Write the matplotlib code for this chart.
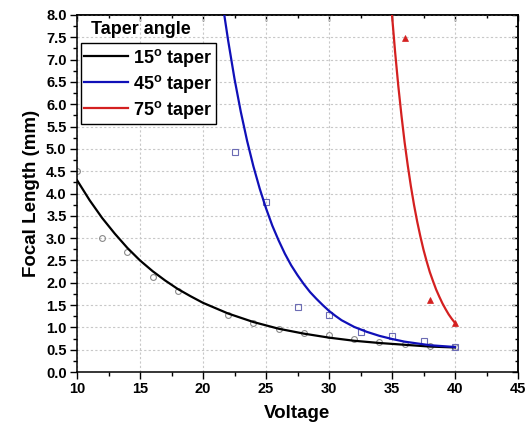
import matplotlib
matplotlib.use('Agg')
import matplotlib.pyplot as plt
from matplotlib.ticker import MultipleLocator, NullFormatter, FormatStrFormatter
from matplotlib.lines import Line2D

plt.rcParams['font.family'] = ['Liberation Sans', 'DejaVu Sans']
plt.rcParams['font.weight'] = 'bold'
plt.rcParams['mathtext.fontset'] = 'custom'
plt.rcParams['mathtext.rm'] = 'Liberation Sans:bold'
plt.rcParams['mathtext.bf'] = 'Liberation Sans:bold'
plt.rcParams['mathtext.it'] = 'Liberation Sans:bold'

# ---- measured points ----
v15 = [10, 12, 14, 16, 18, 22, 24, 26, 28, 30, 32, 34, 36, 38, 40]
f15 = [4.5, 3.0, 2.7, 2.12, 1.81, 1.27, 1.10, 0.97, 0.88, 0.82, 0.75, 0.67, 0.62, 0.58, 0.55]

v45 = [22.5, 25, 27.5, 30, 32.5, 35, 37.5, 40]
f45 = [4.92, 3.81, 1.46, 1.27, 0.90, 0.81, 0.70, 0.56]

v75 = [36, 38, 40]
f75 = [7.49, 1.62, 1.10]

# ---- fitted curves ----
cv15 = [10, 11, 12, 13, 14, 15, 16, 17, 18, 19, 20, 22, 24, 26, 28, 30, 32, 34, 36, 38, 40]
cf15 = [4.30, 3.85, 3.45, 3.10, 2.78, 2.50, 2.26, 2.05, 1.86, 1.70, 1.55, 1.31, 1.12, 0.97,
        0.86, 0.77, 0.70, 0.65, 0.61, 0.57, 0.55]

cv45 = [21.69, 22.0, 22.5, 23.0, 23.5, 24.0, 24.5, 25.0, 25.5, 26.0, 26.5, 27.0, 27.5, 28.0,
        28.5, 29.0, 29.5, 30.0, 30.5, 31, 32, 33, 34, 35, 36, 37, 38, 39, 40]
cf45 = [8.00, 7.42, 6.57, 5.83, 5.18, 4.61, 4.11, 3.67, 3.28, 2.95, 2.65, 2.39, 2.17, 1.97,
        1.79, 1.64, 1.50, 1.37, 1.26, 1.16, 1.01, 0.90, 0.81, 0.74, 0.68, 0.64, 0.60, 0.58, 0.56]

cv75 = [35.0, 35.25, 35.5, 35.75, 36.0, 36.25, 36.5, 36.75, 37.0, 37.25, 37.5, 37.75, 38.0,
        38.25, 38.5, 38.75, 39.0, 39.25, 39.5, 39.75, 40.0]
cf75 = [8.00, 7.16, 6.41, 5.75, 5.15, 4.63, 4.16, 3.74, 3.37, 3.04, 2.74, 2.48, 2.24,
        2.04, 1.85, 1.69, 1.54, 1.41, 1.29, 1.19, 1.10]

labels = [r'15$^{\mathbf{o}}$ taper', r'45$^{\mathbf{o}}$ taper', r'75$^{\mathbf{o}}$ taper']
colors = ['#000000', '#1010b8', '#d42020']

W, H = 526, 430
fig = plt.figure(figsize=(W / 100, H / 100), dpi=100)
ax = fig.add_axes([77 / W, 1 - 372 / H, 441 / W, 357 / H])

ax.set_xlim(10, 45)
ax.set_ylim(0, 8)
ax.xaxis.set_major_locator(MultipleLocator(5))
ax.xaxis.set_minor_locator(MultipleLocator(2.5))
ax.yaxis.set_major_locator(MultipleLocator(0.5))
ax.yaxis.set_minor_locator(MultipleLocator(0.25))
ax.yaxis.set_major_formatter(FormatStrFormatter('%.1f'))
ax.grid(which='major', color='#c8c8c8', linestyle=(0, (2, 2)), linewidth=0.8)
ax.set_axisbelow(True)

for s in ax.spines.values():
    s.set_linewidth(1.1)

ax.tick_params(which='major', direction='out', length=5, width=1.0, labelsize=10.5,
               top=False, right=False, pad=2.5)
ax.tick_params(which='minor', direction='out', length=2.8, width=1.0, top=False, right=False)

secx = ax.secondary_xaxis('top')
secx.xaxis.set_major_locator(MultipleLocator(5))
secx.xaxis.set_minor_locator(MultipleLocator(2.5))
secx.xaxis.set_major_formatter(NullFormatter())
secx.tick_params(which='major', direction='in', length=4, width=1.0)
secx.tick_params(which='minor', direction='in', length=2.5, width=1.0)
secx.spines['top'].set_linewidth(1.1)

secy = ax.secondary_yaxis('right')
secy.yaxis.set_major_locator(MultipleLocator(0.5))
secy.yaxis.set_minor_locator(MultipleLocator(0.25))
secy.yaxis.set_major_formatter(NullFormatter())
secy.tick_params(which='major', direction='in', length=4, width=1.0)
secy.tick_params(which='minor', direction='in', length=2.5, width=1.0)
secy.spines['right'].set_linewidth(1.1)

# curves
ax.plot(cv15, cf15, color=colors[0], lw=1.6, zorder=3)
ax.plot(cv45, cf45, color=colors[1], lw=1.6, zorder=3)
ax.plot(cv75, cf75, color=colors[2], lw=1.6, zorder=3)

# points
ax.plot(v15, f15, 'o', mfc='none', mec='#8a8a8a', ms=4.2, mew=0.8, zorder=2)
ax.plot(v45, f45, 's', mfc='none', mec='#6c6cb4', ms=4.2, mew=0.8, zorder=2)
ax.plot(v75, f75, '^', color='#d42020', ms=5, mew=0.5, zorder=4)

ax.set_xlabel('Voltage', fontsize=13.5, fontweight='bold', labelpad=6)
ax.set_ylabel('Focal Length (mm)', fontsize=13.5, fontweight='bold', labelpad=4)

handles = [Line2D([], [], color=c, lw=1.6) for c in colors]
leg = ax.legend(handles, labels, loc='upper left', bbox_to_anchor=((80.7 - 77) / 441, (372 - 43) / 357),
                borderaxespad=0, frameon=True, fancybox=False, edgecolor='black',
                prop={'size': 13, 'weight': 'bold'}, handlelength=2.4, handletextpad=0.3,
                labelspacing=0.22, borderpad=0.2)
leg.get_frame().set_linewidth(1.0)
leg.get_frame().set_alpha(1)

fig.text(91 / W, 1 - 30 / H, 'Taper angle', fontsize=13, fontweight='bold', ha='left', va='center')

fig.savefig('out.png', dpi=100)
